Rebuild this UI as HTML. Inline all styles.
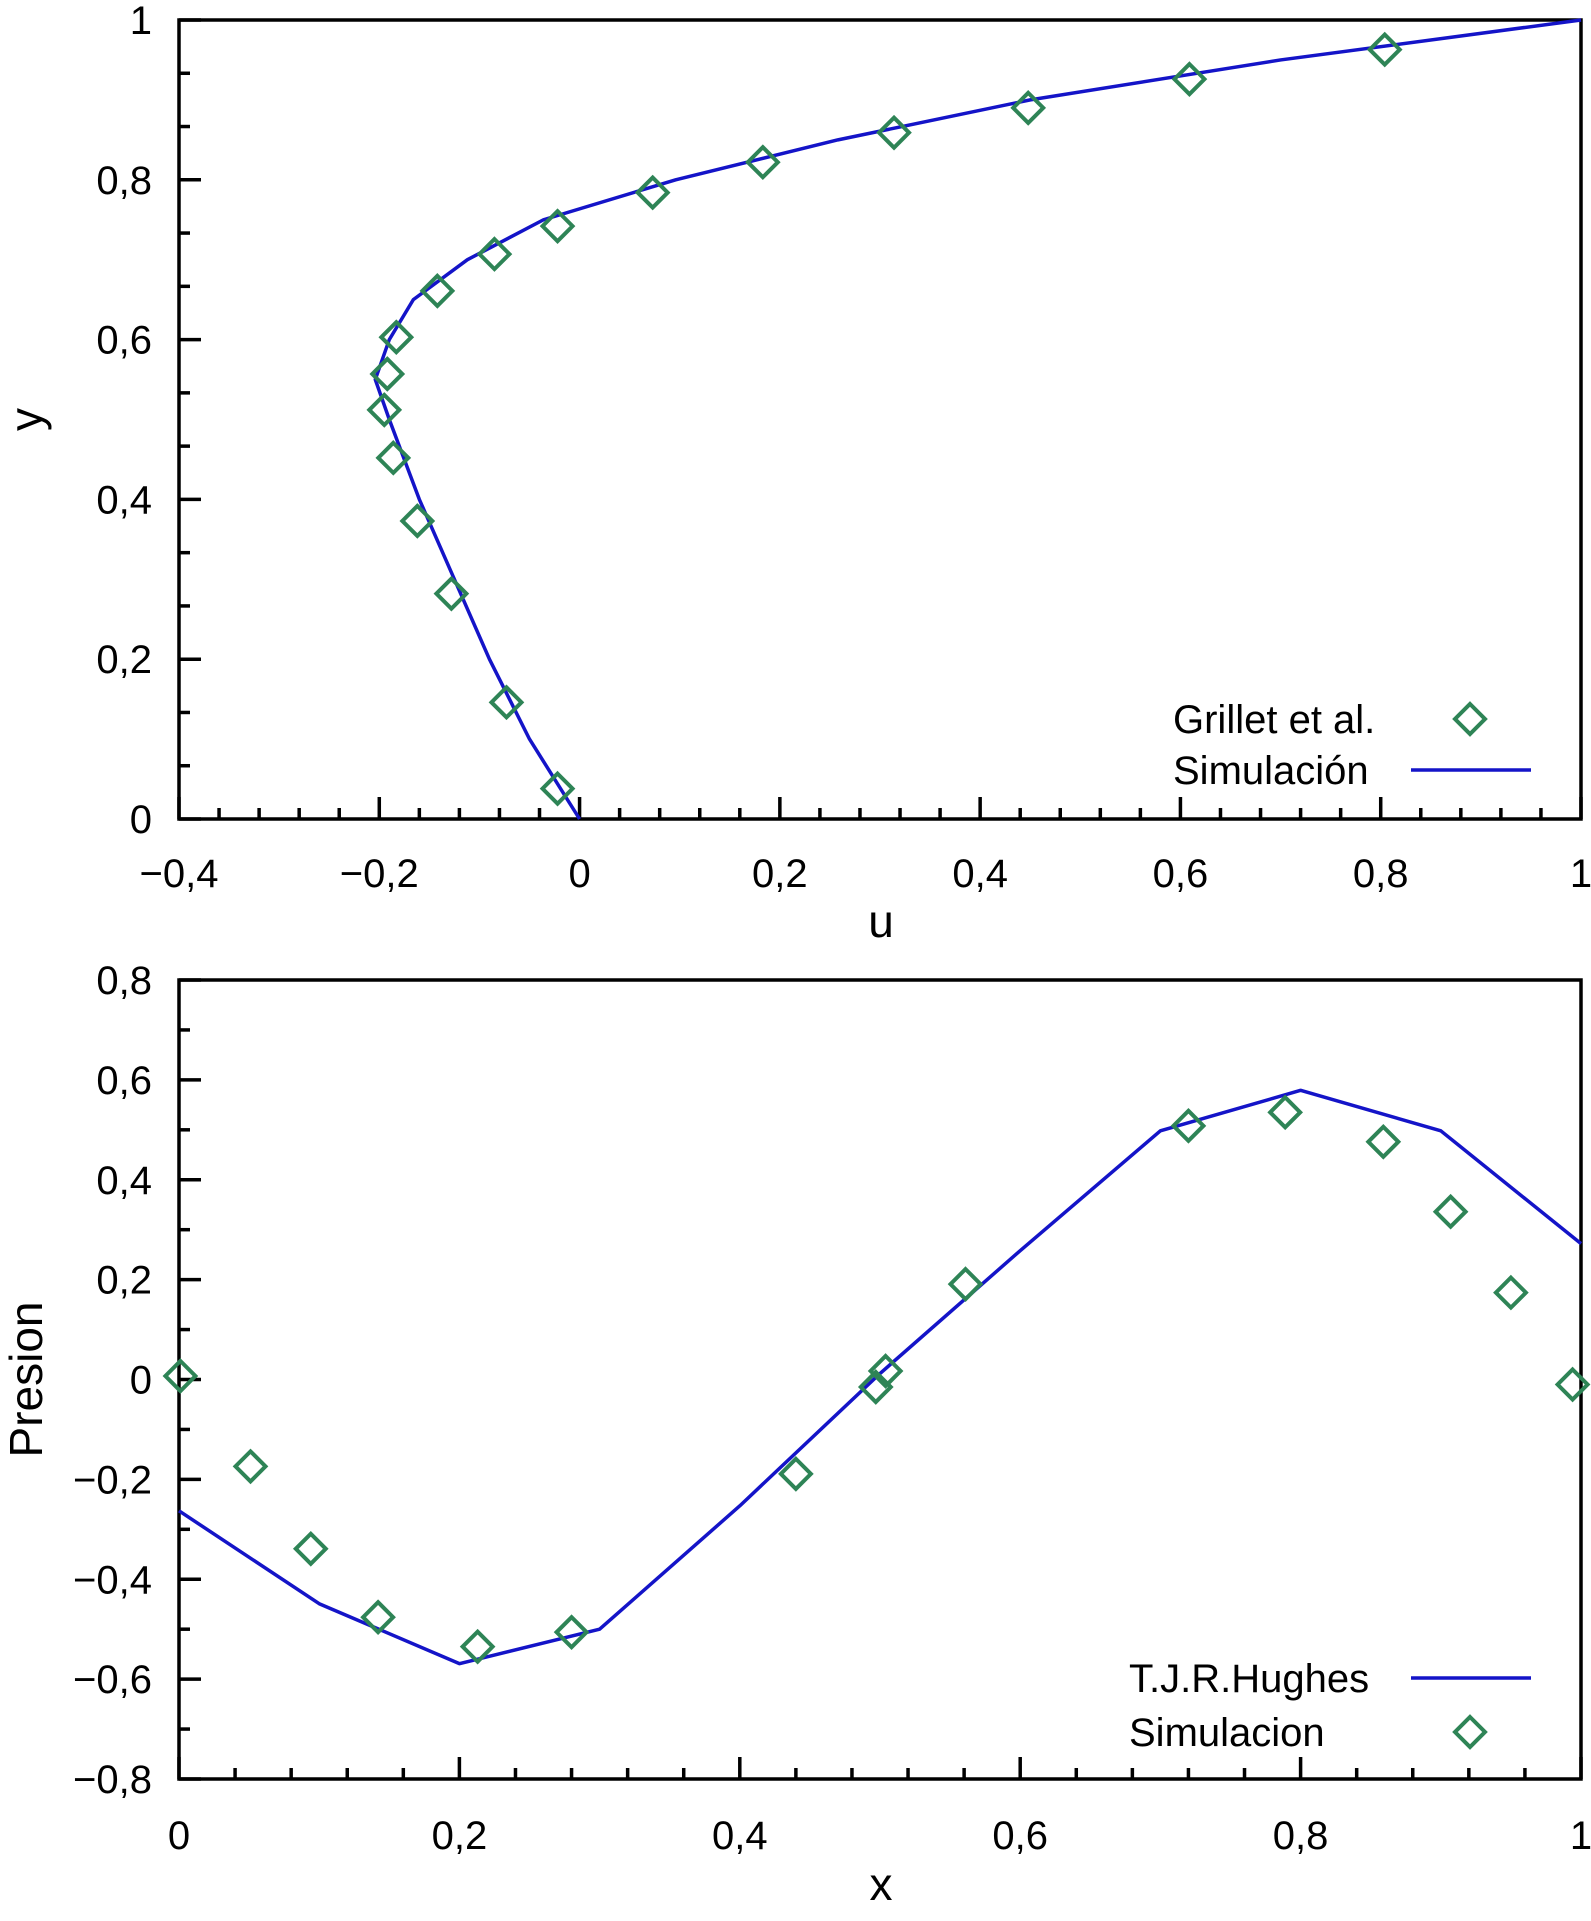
<!DOCTYPE html>
<html><head><meta charset="utf-8"><style>
html,body{margin:0;padding:0;background:#fff}
svg{display:block}
text{font-family:"Liberation Sans",Arial,sans-serif;fill:#000}
</style></head><body>
<svg id="chart" width="1591" height="1921" viewBox="0 0 1591 1921" xmlns="http://www.w3.org/2000/svg"></svg>
<script>
// Top chart data
const topMarkerU = [0.804,0.609,0.448,0.314,0.183,0.073,-0.022,-0.085,-0.142,-0.183,-0.192,-0.195,-0.186,-0.162,-0.128,-0.073,-0.022];
const topMarkerY = [0.963,0.926,0.890,0.859,0.822,0.784,0.742,0.707,0.661,0.603,0.557,0.512,0.452,0.373,0.282,0.146,0.038];
const topLineU = [0,-0.05,-0.09,-0.125,-0.16,-0.175,-0.19,-0.204,-0.19,-0.166,-0.112,-0.036,0.096,0.258,0.45,0.7,1.0];
const topLineY = [0,0.1,0.2,0.3,0.4,0.45,0.5,0.55,0.6,0.65,0.7,0.75,0.8,0.85,0.9,0.95,1.0];
const topXTicks = ["\u22120,4","\u22120,2","0","0,2","0,4","0,6","0,8","1"];
const topYTicks = ["0","0,2","0,4","0,6","0,8","1"];
// Bottom chart data
const botMarkerX = [0.001,0.051,0.094,0.142,0.213,0.280,0.440,0.497,0.504,0.561,0.720,0.789,0.859,0.907,0.950,0.994];
const botMarkerP = [0.007,-0.174,-0.339,-0.476,-0.535,-0.506,-0.189,-0.015,0.017,0.191,0.508,0.535,0.476,0.336,0.174,-0.010];
const botLineX = [0,0.1,0.2,0.3,0.4,0.5,0.6,0.7,0.8,0.9,1.0];
const botLineP = [-0.263,-0.449,-0.569,-0.5,-0.253,0.012,0.258,0.498,0.579,0.498,0.272];
const botXTicks = ["0","0,2","0,4","0,6","0,8","1"];
const botYTicks = ["\u22120,8","\u22120,6","\u22120,4","\u22120,2","0","0,2","0,4","0,6","0,8"];

const svg = document.getElementById('chart');
const NS = 'http://www.w3.org/2000/svg';
function mk(tag, attrs, parent){const e=document.createElementNS(NS,tag);for(const k in attrs)e.setAttribute(k,attrs[k]);(parent||svg).appendChild(e);return e;}
const BLUE='#1414c8', GREEN='#2e8456';

function panel(cfg){
  const g = mk('g',{});
  
  
  const L=179,R=1581,T=cfg.top,B=cfg.bottom;
  const sx=v=>L+(v-cfg.xmin)/(cfg.xmax-cfg.xmin)*(R-L);
  const sy=v=>B-(v-cfg.ymin)/(cfg.ymax-cfg.ymin)*(B-T);
  const nx=cfg.xTicks.length-1, xstep=(cfg.xmax-cfg.xmin)/nx;
  for(let i=0;i<=nx;i++){
    const v=cfg.xmin+i*xstep, x=sx(v);
    const t=mk('line',{x1:x,x2:x,y1:B,y2:B-22,stroke:'#000','stroke-width':3.5},g);
    
    
    const lb=mk('text',{x:x,y:B+cfg.xLabOff,'text-anchor':'middle','font-size':40},g);
    lb.textContent=cfg.xTicks[i];
    
    
    if(i<nx){for(let k=1;k<cfg.xSub;k++){const xm=sx(v+k*xstep/cfg.xSub);
      const m=mk('line',{x1:xm,x2:xm,y1:B,y2:B-11,stroke:'#000','stroke-width':3.5},g);
      
      }}
  }
  const ny=cfg.yTicks.length-1, ystep=(cfg.ymax-cfg.ymin)/ny;
  for(let i=0;i<=ny;i++){
    const v=cfg.ymin+i*ystep, y=sy(v);
    const t=mk('line',{x1:L,x2:L+22,y1:y,y2:y,stroke:'#000','stroke-width':3.5},g);
    
    
    const lb=mk('text',{x:L-12-0-15,y:y+14,'text-anchor':'end','font-size':40},g);
    lb.textContent=cfg.yTicks[i];
    
    
    if(i<ny){for(let k=1;k<cfg.ySub;k++){const ym=sy(v+k*ystep/cfg.ySub);
      const m=mk('line',{x1:L,x2:L+11,y1:ym,y2:ym,stroke:'#000','stroke-width':3.5},g);
      
      }}
  }
  const fr=mk('rect',{x:L,y:T,width:R-L,height:B-T,fill:'none',stroke:'#000','stroke-width':3.5},g);
  
  
  const pts=cfg.lx.map((v,i)=>sx(v)+','+sy(cfg.ly[i])).join(' ');
  const pl=mk('polyline',{points:pts,fill:'none',stroke:BLUE,'stroke-width':3.5,'stroke-linejoin':'round'},g);
  
  
  cfg.mx.forEach((v,i)=>{
    const x=sx(v),y=sy(cfg.my[i]),r=15;
    const p=mk('polygon',{points:`${x},${y-r} ${x+r},${y} ${x},${y+r} ${x-r},${y}`,fill:'none',stroke:GREEN,'stroke-width':4},g);
    
    
  });
  const xt=mk('text',{x:881,y:cfg.xTitleY,'text-anchor':'middle','font-size':46},g);
  xt.textContent=cfg.xTitle;
  
  
  const cy=(T+B)/2;
  const yt=mk('text',{x:0,y:0,'text-anchor':'middle','font-size':46,transform:`translate(42,${cy}) rotate(-90)`},g);
  yt.textContent=cfg.yTitle;
  
  
  cfg.legend.forEach(e=>{
    const tx=mk('text',{x:e.tx,y:e.y+14,'font-size':40},g);
    tx.textContent=e.label;
    
    
    if(e.type==='line'){
      const l=mk('line',{x1:1411,x2:1531,y1:e.y,y2:e.y,stroke:BLUE,'stroke-width':3.5},g);
      
      
    } else {
      const x=1470,y=e.y,r=15;
      const p=mk('polygon',{points:`${x},${y-r} ${x+r},${y} ${x},${y+r} ${x-r},${y}`,fill:'none',stroke:GREEN,'stroke-width':4},g);
      
      
    }
  });
}

panel({name:'velocity-profile-chart',top:20,bottom:819,xmin:-0.4,xmax:1,ymin:0,ymax:1,
  xTicks:topXTicks,yTicks:topYTicks,xSub:5,ySub:3,lx:topLineU,ly:topLineY,mx:topMarkerU,my:topMarkerY,
  xTitle:'u',yTitle:'y',xTitleY:937,xLabOff:68,
  legend:[{label:'Grillet et al.',tx:1173,y:719,type:'marker'},{label:'Simulación',tx:1173,y:770,type:'line'}]});
panel({name:'pressure-chart',top:980,bottom:1779,xmin:0,xmax:1,ymin:-0.8,ymax:0.8,
  xTicks:botXTicks,yTicks:botYTicks,xSub:5,ySub:2,lx:botLineX,ly:botLineP,mx:botMarkerX,my:botMarkerP,
  xTitle:'x',yTitle:'Presion',xTitleY:1900,xLabOff:70,
  legend:[{label:'T.J.R.Hughes',tx:1129,y:1678,type:'line'},{label:'Simulacion',tx:1129,y:1732,type:'marker'}]});
</script>
</body></html>
